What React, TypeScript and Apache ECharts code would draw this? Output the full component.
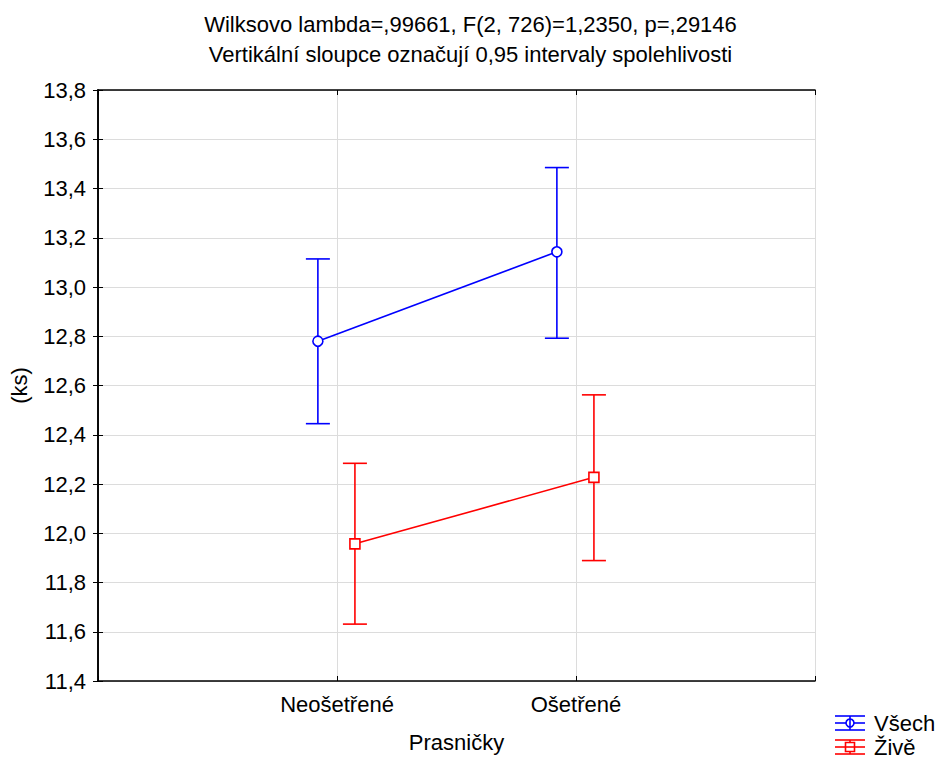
import React, { useEffect, useRef } from "react";
import * as echarts from "echarts";

const titleLines = [
  "Wilksovo lambda=,99661, F(2, 726)=1,2350, p=,29146",
  "Vertikální sloupce označují 0,95 intervaly spolehlivosti",
];
const categories = ["Neošetřené", "Ošetřené"];
const seriesNames = ["Všech", "Živě"];
const vsechMean = [12.78, 13.143];
const vsechLow = [12.445, 12.792];
const vsechHigh = [13.114, 13.485];
const ziveMean = [11.957, 12.227];
const ziveLow = [11.631, 11.889];
const ziveHigh = [12.284, 12.562];
const yTicks = { min: 11.4, max: 13.8, interval: 0.2 };
const xAxisName = "Prasničky";
const yAxisName = "(ks)";

const BLUE = "#0000ff";
const RED = "#ff0000";
const FONT = "Liberation Sans, Arial, sans-serif";
const FS = 22;

export default function App() {
  const ref = useRef<HTMLDivElement>(null);
  useEffect(() => {
    if (!ref.current) return;
    const chart = echarts.init(ref.current, null, { renderer: "svg" });
    const offsets = [-0.08, 0.075];
    const means = [vsechMean, ziveMean];
    const lows = [vsechLow, ziveLow];
    const highs = [vsechHigh, ziveHigh];
    const colors = [BLUE, RED];
    const symbols = ["circle", "rect"];

    const series: any[] = [];
    for (let s = 0; s < 2; s++) {
      const errData = categories.map((_, i) => [i + 1 + offsets[s], lows[s][i], highs[s][i]]);
      series.push({
        type: "custom",
        name: seriesNames[s] + "_err",
        xAxisIndex: 0,
        yAxisIndex: 0,
        data: errData,
        silent: true,
        z: 3,
        renderItem: (params: any, api: any) => {
          const x = api.value(0);
          const lo = api.coord([x, api.value(1)]);
          const hi = api.coord([x, api.value(2)]);
          const w = 12;
          const style = { stroke: colors[s], lineWidth: 1.6, fill: "none" };
          return {
            type: "group",
            children: [
              { type: "line", shape: { x1: lo[0], y1: lo[1], x2: hi[0], y2: hi[1] }, style },
              { type: "line", shape: { x1: lo[0] - w, y1: lo[1], x2: lo[0] + w, y2: lo[1] }, style },
              { type: "line", shape: { x1: hi[0] - w, y1: hi[1], x2: hi[0] + w, y2: hi[1] }, style },
            ],
          };
        },
      });
      series.push({
        type: "line",
        name: seriesNames[s],
        xAxisIndex: 0,
        yAxisIndex: 0,
        data: categories.map((_, i) => [i + 1 + offsets[s], means[s][i]]),
        symbol: symbols[s],
        symbolSize: s === 0 ? 10 : 10,
        lineStyle: { color: colors[s], width: 1.6 },
        itemStyle: { color: "#ffffff", borderColor: colors[s], borderWidth: 1.6 },
        z: 4,
      });
    }

    const fmtY = (v: number) => v.toFixed(1).replace(".", ",");
    const fmtX = (v: number) => {
      const idx = Math.round(v) - 1;
      return Math.abs(v - Math.round(v)) < 1e-6 && categories[idx] ? categories[idx] : "";
    };

    const legendGraphics: any[] = [];
    seriesNames.forEach((name, s) => {
      const cy = 723 + s * 24;
      const x0 = 835;
      const x1 = 865;
      const cx = 850;
      const st = { stroke: colors[s], lineWidth: 1.6, fill: "none" };
      legendGraphics.push(
        { type: "line", shape: { x1: x0, y1: cy - 7, x2: x1, y2: cy - 7 }, style: st },
        { type: "line", shape: { x1: x0, y1: cy + 7, x2: x1, y2: cy + 7 }, style: st },
        { type: "line", shape: { x1: x0, y1: cy, x2: x1, y2: cy }, style: st },
        { type: "line", shape: { x1: cx, y1: cy - 7, x2: cx, y2: cy + 7 }, style: st },
        s === 0
          ? { type: "circle", shape: { cx, cy, r: 4 }, style: { stroke: colors[s], lineWidth: 1.6, fill: "#fff" } }
          : { type: "rect", shape: { x: cx - 4.5, y: cy - 4.5, width: 9, height: 9 }, style: { stroke: colors[s], lineWidth: 1.6, fill: "#fff" } },
        s === 0
          ? { type: "line", shape: { x1: cx, y1: cy - 4, x2: cx, y2: cy + 4 }, style: st }
          : { type: "line", shape: { x1: cx - 4.5, y1: cy, x2: cx + 4.5, y2: cy }, style: st },
        {
          type: "text",
          x: 874,
          y: cy,
          style: { text: name, font: `${FS}px ${FONT}`, fill: "#000", verticalAlign: "middle" },
        }
      );
    });

    chart.setOption({
      animation: false,
      backgroundColor: "#ffffff",
      textStyle: { fontFamily: FONT },
      title: [
        {
          text: titleLines[0],
          left: "center",
          top: 8,
          textStyle: { fontSize: FS, fontWeight: "normal", color: "#000", fontFamily: FONT },
        },
        {
          text: titleLines[1],
          left: "center",
          top: 38,
          textStyle: { fontSize: FS, fontWeight: "normal", color: "#000", fontFamily: FONT },
        },
      ],
      grid: { left: 97, top: 90, right: 126, bottom: 75, containLabel: false },
      xAxis: [
        {
          type: "value",
          min: 0,
          max: 3,
          interval: 1,
          position: "bottom",
          name: xAxisName,
          nameLocation: "middle",
          nameGap: 50,
          nameTextStyle: { fontSize: FS, color: "#000", fontFamily: FONT },
          axisLine: { show: true, lineStyle: { color: "#000", width: 1.6 } },
          axisTick: { show: true, inside: true, length: 5, lineStyle: { color: "#000" } },
          axisLabel: { formatter: fmtX, fontSize: FS, color: "#000", margin: 12, fontFamily: FONT },
          splitLine: { show: true, lineStyle: { color: "#dcdcdc", width: 1 } },
        },
        {
          type: "value",
          min: 0,
          max: 3,
          interval: 1,
          position: "top",
          axisLine: { show: true, lineStyle: { color: "#000", width: 1.6 } },
          axisTick: { show: true, inside: true, length: 5, lineStyle: { color: "#000" } },
          axisLabel: { show: false },
          splitLine: { show: false },
        },
      ],
      yAxis: [
        {
          type: "value",
          min: yTicks.min,
          max: yTicks.max,
          interval: yTicks.interval,
          position: "left",
          name: yAxisName,
          nameLocation: "middle",
          nameGap: 68,
          nameRotate: 90,
          nameTextStyle: { fontSize: FS, color: "#000", fontFamily: FONT },
          axisLine: { show: true, lineStyle: { color: "#000", width: 1.6 } },
          axisTick: { show: true, inside: true, length: 5, lineStyle: { color: "#000" } },
          axisLabel: { formatter: fmtY, fontSize: FS, color: "#000", margin: 12, fontFamily: FONT },
          splitLine: { show: true, lineStyle: { color: "#dcdcdc", width: 1 } },
        },
        {
          type: "value",
          min: yTicks.min,
          max: yTicks.max,
          interval: yTicks.interval,
          position: "right",
          axisLine: { show: true, lineStyle: { color: "#000", width: 1.6 } },
          axisTick: { show: true, inside: true, length: 5, lineStyle: { color: "#000" } },
          axisLabel: { show: false },
          splitLine: { show: false },
        },
      ],
      series,
      graphic: legendGraphics,
    });
    return () => chart.dispose();
  }, []);
  return <div ref={ref} style={{ width: 941, height: 758, position: "absolute", left: 0, top: 0 }} />;
}
